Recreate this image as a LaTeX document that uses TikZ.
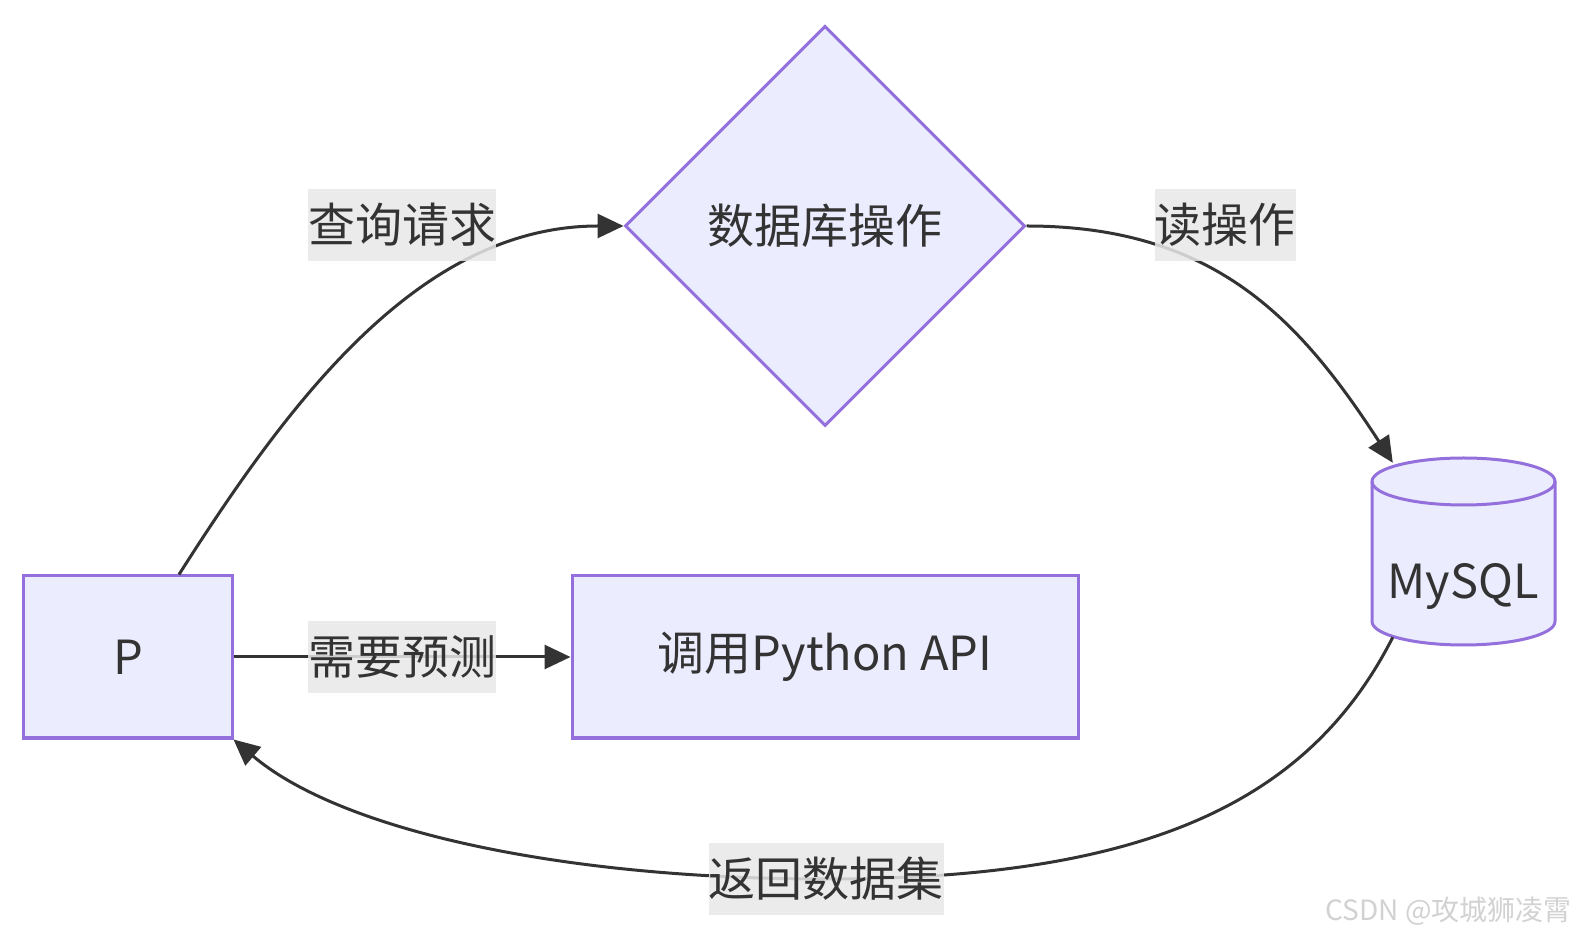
\documentclass[tikz,border=0pt]{standalone}
\usepackage{fontspec}
\setmainfont{Noto Sans CJK SC}
\usetikzlibrary{arrows.meta,shapes.geometric,calc}
\definecolor{nodefill}{HTML}{ECECFF}
\definecolor{nodeline}{HTML}{9370DB}
\definecolor{edgecol}{HTML}{333333}
\definecolor{labelbg}{HTML}{E8E8E8}
\definecolor{wm}{HTML}{D2D2D2}
\begin{document}
\begin{tikzpicture}[x=1bp,y=1bp,
  font=\fontsize{47bp}{56bp}\selectfont,
  box/.style={draw=nodeline,fill=nodefill,line width=3bp,text=edgecol,inner sep=0pt},
  edge/.style={draw=edgecol,line width=3bp,-{Triangle[length=26bp,width=24bp]}},
  elabel/.style={fill=labelbg,fill opacity=0.85,text opacity=1,text=edgecol,inner xsep=0pt,inner ysep=0pt,minimum height=72bp}]
\useasboundingbox (0,0) rectangle (1579,939);
\fill[white] (0,0) rectangle (1579,939);
% nodes
\node[box,minimum width=208bp,minimum height=162bp] (P) at (128,282) {P};
\node[box,minimum width=506bp,minimum height=162bp] (api) at (825,282) {调用Python API};
\node[box,diamond,minimum width=400bp,minimum height=400bp] (dia) at (825,713) {数据库操作};
% cylinder
\node[minimum width=183bp,minimum height=187bp,inner sep=0pt] (db) at (1463.5,387.5) {};
\path[box] (1372,457.5) -- (1372,317.5) arc[start angle=180,end angle=360,x radius=91.5,y radius=23.5]
  -- (1555,457.5) arc[start angle=0,end angle=180,x radius=91.5,y radius=23.5] -- cycle;
\draw[nodeline,line width=3bp] (1372,457.5) arc[start angle=180,end angle=360,x radius=91.5,y radius=23.5];
\node[text=edgecol] (dbtext) at (1463,353) {MySQL};
% edges
\draw[edge] ($(P.north)+(51,0)$) .. controls (290,539) and (420,713) .. (dia.west);
\draw[edge] (dia.east) .. controls (1215,713) and (1300,619) .. ($(db.north west)+(21,-5)$);
\draw[edge] ($(db.south west)+(21,8)$) .. controls (1310,139) and (1150,60) .. (826,60)
  .. controls (560,60) and (340,109) .. (P.south east);
\draw[edge] (P.east) -- (api.west);
% labels
\node[elabel] (l1) at (402,714) {查询请求};
\node[elabel] (l2) at (1225,714) {读操作};
\node[elabel] (l3) at (402,282) {需要预测};
\node[elabel] (l4) at (826,60) {返回数据集};
% watermark
\node[text=wm,font=\fontsize{28bp}{32bp}\selectfont,anchor=east] (wmk) at (1575,28) {CSDN @攻城狮凌霄};
\end{tikzpicture}
\end{document}
